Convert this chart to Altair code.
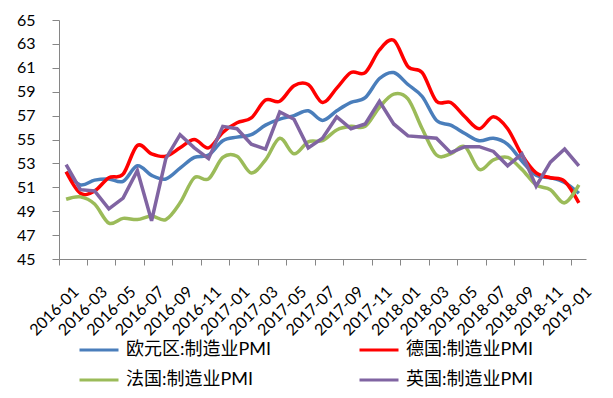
import altair as alt
import pandas as pd

months = [
    "2016-01", "2016-02", "2016-03", "2016-04", "2016-05", "2016-06", "2016-07", "2016-08", "2016-09", "2016-10", "2016-11", "2016-12",
    "2017-01", "2017-02", "2017-03", "2017-04", "2017-05", "2017-06", "2017-07", "2017-08", "2017-09", "2017-10", "2017-11", "2017-12",
    "2018-01", "2018-02", "2018-03", "2018-04", "2018-05", "2018-06", "2018-07", "2018-08", "2018-09", "2018-10", "2018-11", "2018-12",
    "2019-01",
]
tick_labels = months[::2]

series_names = ["欧元区:制造业PMI", "德国:制造业PMI", "法国:制造业PMI", "英国:制造业PMI"]
colors = ["#4A7EBB", "#FF0000", "#9BBB59", "#8064A2"]
# legend is laid out column by column: column 1 = 欧元区, 法国; column 2 = 德国, 英国
legend_order = [series_names[0], series_names[2], series_names[1], series_names[3]]
legend_colors = [colors[0], colors[2], colors[1], colors[3]]

eurozone = [52.3, 51.2, 51.6, 51.7, 51.5, 52.8, 52.0, 51.7, 52.6, 53.5, 53.7, 54.9,
            55.2, 55.4, 56.2, 56.7, 57.0, 57.4, 56.6, 57.4, 58.1, 58.5, 60.1, 60.6,
            59.6, 58.6, 56.6, 56.2, 55.5, 54.9, 55.1, 54.6, 53.2, 52.0, 51.8, 51.4,
            50.5]
germany = [52.3, 50.5, 50.7, 51.8, 52.1, 54.5, 53.8, 53.6, 54.3, 55.0, 54.3, 55.6,
           56.4, 56.8, 58.3, 58.2, 59.5, 59.6, 58.1, 59.3, 60.6, 60.6, 62.5, 63.3,
           61.1, 60.6, 58.2, 58.1, 56.9, 55.9, 56.9, 55.9, 53.7, 52.2, 51.8, 51.5,
           49.7]
france = [50.0, 50.2, 49.6, 48.0, 48.4, 48.3, 48.6, 48.3, 49.7, 51.8, 51.7, 53.5,
          53.6, 52.2, 53.3, 55.1, 53.8, 54.8, 54.9, 55.8, 56.1, 56.1, 57.7, 58.8,
          58.4, 55.9, 53.7, 53.8, 54.4, 52.5, 53.3, 53.5, 52.5, 51.2, 50.8, 49.7,
          51.2]
uk = [52.9, 50.8, 50.7, 49.2, 50.1, 52.4, 48.2, 53.4, 55.4, 54.3, 53.4, 56.1,
      55.9, 54.6, 54.2, 57.3, 56.7, 54.3, 55.1, 56.9, 55.9, 56.3, 58.2, 56.3,
      55.3, 55.2, 55.1, 53.9, 54.4, 54.4, 54.0, 52.8, 53.8, 51.1, 53.1, 54.2,
      52.8]

rows = []
for i, (name, vals) in enumerate(zip(series_names, [eurozone, germany, france, uk])):
    for m, v in zip(months, vals):
        rows.append({"month": m, "value": v, "series": name, "draw": i})
df = pd.DataFrame(rows)

W = 527
H = 239
band = W / len(months)
FONT = "Lato, Noto Sans CJK SC, sans-serif"

x_enc = alt.X(
    "month:N",
    sort=months,
    bandPosition=0.5,
    scale=alt.Scale(type="band", domain=months, paddingInner=0, paddingOuter=0),
    axis=alt.Axis(
        title=None,
        values=tick_labels,
        labelAngle=-45,
        labelAlign="right",
        labelBaseline="middle",
        bandPosition=0,
        labelOffset=band / 2 + 3,
        tickSize=6,
        labelPadding=24,
        labelFontSize=16,
        labelFont=FONT,
        labelColor="#000000",
        domainColor="#868686",
        tickColor="#868686",
        grid=False,
    ),
)
y_enc = alt.Y(
    "value:Q",
    scale=alt.Scale(domain=[45, 65], nice=False, zero=False),
    axis=alt.Axis(
        title=None,
        values=list(range(45, 66, 2)),
        tickSize=7,
        labelPadding=17,
        labelFontSize=16,
        labelFont=FONT,
        labelColor="#000000",
        domainColor="#868686",
        tickColor="#868686",
        grid=False,
    ),
)
color_enc = alt.Color(
    "series:N",
    scale=alt.Scale(domain=legend_order, range=legend_colors),
    sort=legend_order,
    legend=alt.Legend(
        title=None,
        orient="none",
        legendX=19,
        legendY=309,
        columns=2,
        columnPadding=81,
        rowPadding=-4,
        symbolType="stroke",
        symbolSize=1521,
        symbolStrokeWidth=3,
        labelFontSize=18,
        labelFont=FONT,
        labelColor="#000000",
        labelOffset=6,
    ),
)

smooth = alt.Chart(df).transform_filter(
    alt.datum.series != "英国:制造业PMI"
).mark_line(interpolate="cardinal", strokeWidth=3.5).encode(
    x=x_enc, y=y_enc, color=color_enc,
    detail="series:N",
)
straight = alt.Chart(df).transform_filter(
    alt.datum.series == "英国:制造业PMI"
).mark_line(interpolate="linear", strokeWidth=3.5).encode(
    x=x_enc, y=y_enc, color=color_enc,
)

chart = alt.layer(smooth, straight).properties(
    width=W,
    height=H,
    autosize=alt.AutoSizeParams(type="none"),
    padding={"left": 51, "top": 12, "right": 19, "bottom": 131},
    background="#FFFFFF",
).configure_view(stroke=None)

chart.save("out.html", embed_options={"renderer": "svg", "actions": False})
